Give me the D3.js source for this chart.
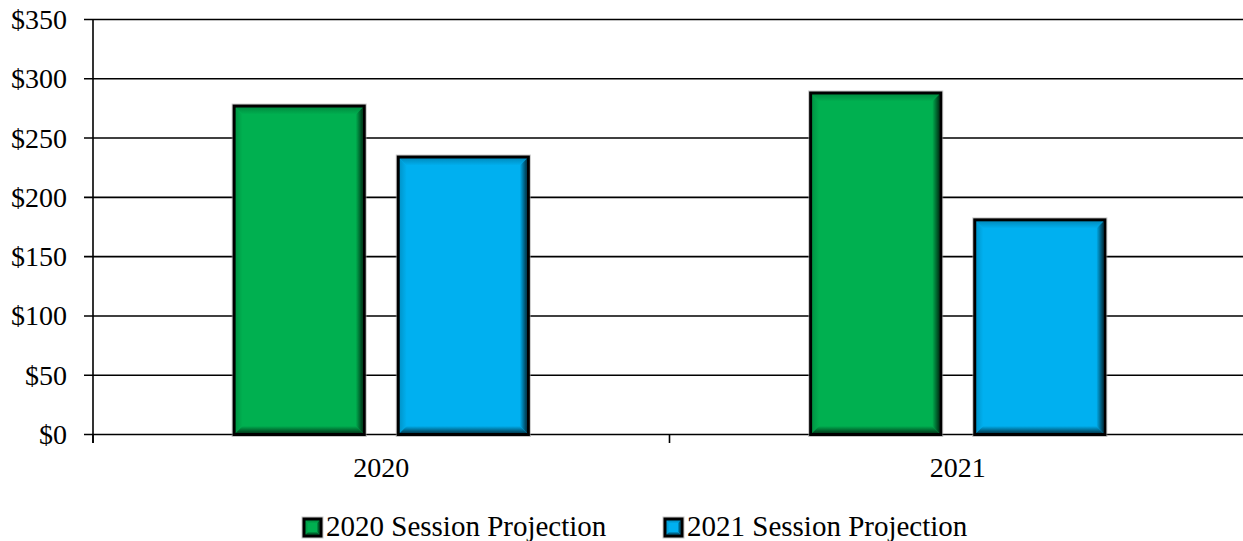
<!DOCTYPE html>
<html>
<head>
<meta charset="utf-8">
<script src="https://cdn.jsdelivr.net/npm/d3@7/dist/d3.min.js"></script>
<style>
  html, body { margin: 0; padding: 0; background: #fff; }
  svg { display: block; }
  text { font-family: "Liberation Serif", "Times New Roman", serif; fill: #000; }
</style>
</head>
<body>
<svg id="chart" width="1243" height="541"></svg>
<script>
// Session projections by year (dollars)
const categories = ["2020", "2021"];
const seriesNames = ["2020 Session Projection", "2021 Session Projection"];
const projection2020 = [277, 288];
const projection2021 = [234, 181];
const yTicks = [0, 50, 100, 150, 200, 250, 300, 350];
const yTickLabels = ["$0", "$50", "$100", "$150", "$200", "$250", "$300", "$350"];
const seriesColors = ["#00B050", "#00B0F0"];

const seriesValues = [projection2020, projection2021];

const svg = d3.select("#chart");
const plot = { left: 93, right: 1246, top: 19.5, bottom: 434.5 };

const y = d3.scaleLinear().domain([0, 350]).range([plot.bottom, plot.top]);
const x0 = d3.scaleBand().domain(categories).range([plot.left, plot.right]).padding(0);
const x1 = d3.scaleBand().domain(d3.range(seriesNames.length))
  .range([0, x0.bandwidth()]).paddingInner(34 / 164).paddingOuter(0.86);

// gradients for bevelled bar edges
const defs = svg.append("defs");
function shade(c, k) { const h = d3.rgb(c); return d3.rgb(h.r * k, h.g * k, h.b * k).formatHex(); }
const sides = {
  top:    { x1: 0, y1: 0, x2: 0, y2: 1, k: 0.8 },
  left:   { x1: 0, y1: 0, x2: 1, y2: 0, k: 0.85 },
  right:  { x1: 1, y1: 0, x2: 0, y2: 0, k: 0.3 },
  bottom: { x1: 0, y1: 1, x2: 0, y2: 0, k: 0.35 }
};
seriesColors.forEach((c, i) => {
  Object.entries(sides).forEach(([name, s]) => {
    const g = defs.append("linearGradient").attr("id", `bev-${i}-${name}`)
      .attr("x1", s.x1).attr("y1", s.y1).attr("x2", s.x2).attr("y2", s.y2);
    g.append("stop").attr("offset", 0).attr("stop-color", shade(c, s.k));
    g.append("stop").attr("offset", 1).attr("stop-color", c);
  });
});

function bevelBox(g, x, yTop, w, h, i, b) {
  g.append("rect").attr("x", x).attr("y", yTop).attr("width", w).attr("height", h)
    .attr("fill", "none").attr("stroke", "#9a9a9a").attr("stroke-width", 5).attr("stroke-opacity", 0.55);
  g.append("rect").attr("x", x).attr("y", yTop).attr("width", w).attr("height", h)
    .attr("fill", seriesColors[i]);
  const ix = x + 1.5, iy = yTop + 1.5, iw = w - 3, ih = h - 3;
  const polys = {
    top:    [[ix, iy], [ix + iw, iy], [ix + iw - b, iy + b], [ix + b, iy + b]],
    left:   [[ix, iy], [ix + b, iy + b], [ix + b, iy + ih - b], [ix, iy + ih]],
    right:  [[ix + iw, iy], [ix + iw, iy + ih], [ix + iw - b, iy + ih - b], [ix + iw - b, iy + b]],
    bottom: [[ix, iy + ih], [ix + b, iy + ih - b], [ix + iw - b, iy + ih - b], [ix + iw, iy + ih]]
  };
  ["top", "left", "right", "bottom"].forEach(name => {
    g.append("polygon").attr("points", polys[name].map(p => p.join(",")).join(" "))
      .attr("fill", `url(#bev-${i}-${name})`);
  });
  g.append("rect").attr("x", x).attr("y", yTop).attr("width", w).attr("height", h)
    .attr("fill", "none").attr("stroke", "#000").attr("stroke-width", 3);
}

// gridlines
svg.append("g").selectAll("line").data(yTicks).join("line")
  .attr("x1", plot.left - 9).attr("x2", plot.right)
  .attr("y1", d => y(d)).attr("y2", d => y(d))
  .attr("stroke", "#000").attr("stroke-width", 1.6);

// y axis line
svg.append("line").attr("x1", plot.left).attr("x2", plot.left)
  .attr("y1", y(350)).attr("y2", plot.bottom + 8.5)
  .attr("stroke", "#000").attr("stroke-width", 1.6);

// y tick labels
svg.append("g").selectAll("text").data(yTicks).join("text")
  .attr("x", 67).attr("y", d => y(d) + 9.5)
  .attr("text-anchor", "end").attr("font-size", 28)
  .text((d, i) => yTickLabels[i]);

// x category boundary ticks
const boundaries = [plot.left, ...categories.slice(1).map(c => x0(c)), plot.right];
svg.append("g").selectAll("line").data(boundaries).join("line")
  .attr("x1", d => d).attr("x2", d => d)
  .attr("y1", plot.bottom).attr("y2", plot.bottom + 8.5)
  .attr("stroke", "#000").attr("stroke-width", 1.6);

// bars
const barsG = svg.append("g");
categories.forEach((cat, ci) => {
  seriesValues.forEach((vals, si) => {
    const bx = x0(cat) + x1(si);
    const v = vals[ci];
    bevelBox(barsG.append("g"), bx, y(v), x1.bandwidth(), y(0) - y(v), si, 7);
  });
});

// category labels
svg.append("g").selectAll("text").data(categories).join("text")
  .attr("x", d => x0(d) + x1(0) + (x1(1) + x1.bandwidth() - x1(0)) / 2).attr("y", 477)
  .attr("text-anchor", "middle").attr("font-size", 28)
  .text(d => d);

// legend
const legendX = [304, 665];
const legend = svg.append("g");
seriesNames.forEach((name, i) => {
  const g = legend.append("g");
  bevelBox(g, legendX[i], 519, 17, 17, i, 3);
  g.append("text").attr("x", legendX[i] + 22).attr("y", 536)
    .attr("font-size", 29).text(name);
});
</script>
</body>
</html>
